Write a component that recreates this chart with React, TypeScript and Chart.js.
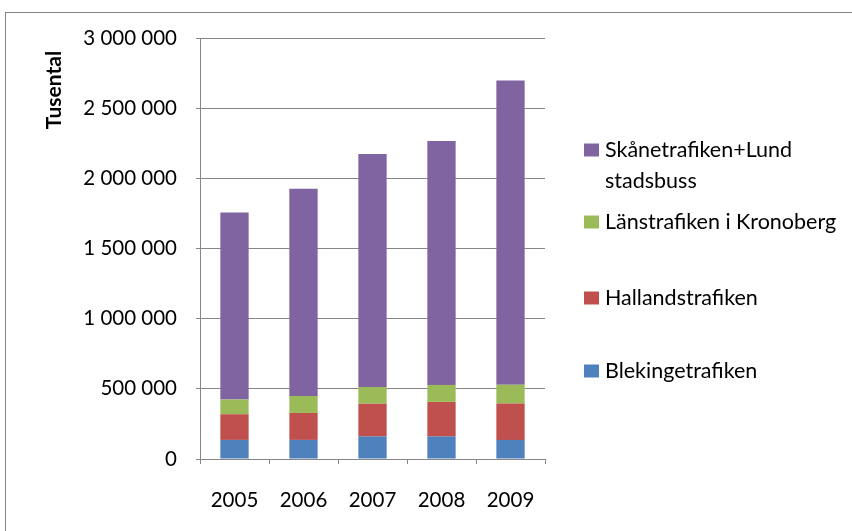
import { useEffect, useRef } from 'react';
import { Chart, registerables } from 'chart.js';

Chart.register(...registerables);

const years = ['2005', '2006', '2007', '2008', '2009'];
const blekinge = [136000, 136000, 161000, 161000, 136000];
const halland = [183000, 192000, 233000, 246000, 259000];
const kronoberg = [105000, 121000, 119000, 121000, 134000];
const skane = [1333000, 1477000, 1661000, 1738000, 2168000];
const yMax = 3000000;
const yStep = 500000;
const axisTitle = 'Tusental';
const seriesNames: (string | string[])[] = [
  'Blekingetrafiken',
  'Hallandstrafiken',
  'Länstrafiken i Kronoberg',
  ['Skånetrafiken+Lund', 'stadsbuss'],
];
const seriesColors = ['#4F81BD', '#C0504D', '#9BBB59', '#8064A2'];

const FONT = 'Lato, "Open Sans", sans-serif';
const GRAY = '#868686';

const fmt = (v: number) => String(v).replace(/\B(?=(\d{3})+(?!\d))/g, '\u00a0');

const framePlugin = {
  id: 'frame',
  beforeDraw(chart: any) {
    const ctx = chart.ctx;
    ctx.save();
    ctx.fillStyle = '#ffffff';
    ctx.fillRect(0, 0, chart.width, chart.height);
    ctx.strokeStyle = GRAY;
    ctx.lineWidth = 1;
    ctx.strokeRect(5.5, 12.5, chart.width + 20, chart.height + 20);
    ctx.restore();
  },
  afterDraw(chart: any) {
    const ctx = chart.ctx;
    ctx.save();
    // axis title
    ctx.translate(54, 90);
    ctx.rotate(-Math.PI / 2);
    ctx.font = 'bold 21px ' + FONT;
    ctx.fillStyle = '#000';
    ctx.textAlign = 'center';
    ctx.textBaseline = 'middle';
    ctx.fillText(axisTitle, 0, 0);
    ctx.restore();

    // legend (reverse order, top = last series)
    const centers = [371, 298, 222, 150];
    ctx.save();
    ctx.font = '21.5px ' + FONT;
    ctx.textBaseline = 'middle';
    ctx.textAlign = 'left';
    chart.data.datasets.forEach((ds: any, i: number) => {
      const cy = centers[i];
      ctx.fillStyle = ds.backgroundColor;
      ctx.fillRect(584, cy - 6.5, 15, 13);
      ctx.fillStyle = '#000';
      const lines = Array.isArray(seriesNames[i]) ? (seriesNames[i] as string[]) : [seriesNames[i] as string];
      lines.forEach((t, k) => ctx.fillText(t, 605, cy + k * 31));
    });
    ctx.restore();
  },
};

export default function App() {
  const ref = useRef<HTMLCanvasElement>(null);
  useEffect(() => {
    if (!ref.current) return;
    const values = [blekinge, halland, kronoberg, skane];
    const chart = new Chart(ref.current, {
      type: 'bar',
      data: {
        labels: years,
        datasets: values.map((d, i) => ({
          label: Array.isArray(seriesNames[i]) ? (seriesNames[i] as string[]).join(' ') : (seriesNames[i] as string),
          data: d,
          backgroundColor: seriesColors[i],
          borderWidth: 0,
          categoryPercentage: 1,
          barPercentage: 0.41,
        })),
      },
      options: {
        responsive: false,
        animation: false,
        layout: { padding: { left: 0, right: 307, top: 38, bottom: 0 } },
        plugins: { legend: { display: false }, tooltip: { enabled: false }, title: { display: false } },
        scales: {
          x: {
            stacked: true,
            grid: { display: true, drawOnChartArea: false, drawTicks: true, tickLength: 5, color: GRAY, offset: true },
            border: { color: GRAY },
            ticks: { color: '#000', font: { family: FONT, size: 20.5 }, padding: 24, maxRotation: 0 },
            afterFit: (s: any) => { s.height = 72; },
          },
          y: {
            stacked: true,
            min: 0,
            max: yMax,
            grid: { color: GRAY, tickLength: 4 },
            border: { color: GRAY },
            ticks: {
              stepSize: yStep,
              color: '#000',
              padding: 19,
              font: { family: FONT, size: 20.5 },
              callback: (v: any) => fmt(Number(v)),
            },
            afterFit: (s: any) => { s.width = 200; },
          },
        },
      },
      plugins: [framePlugin],
    });
    return () => chart.destroy();
  }, []);
  return (
    <div style={{ position: 'fixed', left: 0, top: 0, width: 852, height: 531, background: '#fff' }}>
      <canvas ref={ref} width={852} height={531} style={{ display: 'block' }} />
    </div>
  );
}
